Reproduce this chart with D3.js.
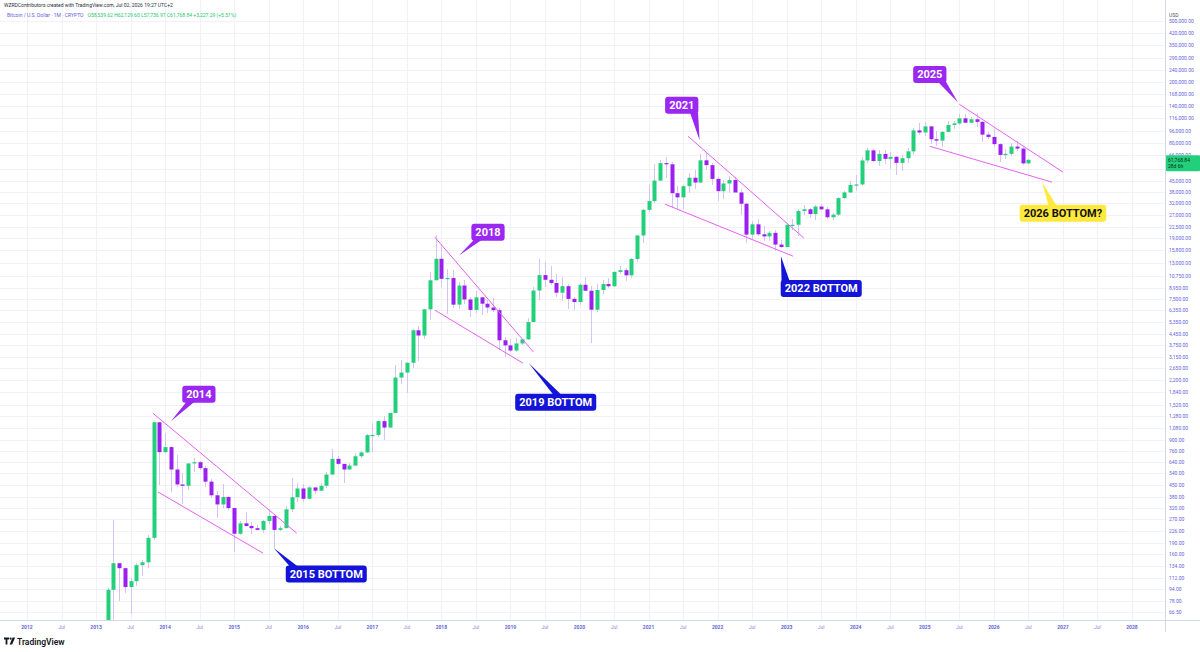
<!DOCTYPE html>
<html>
<head>
    <meta charset="UTF-8" />
    <style>
        body { margin: 0; background: #fff; }
        svg { display: block; font-family: Roboto, "Liberation Sans", sans-serif; }
        .grid line { stroke: #f1f1f7; stroke-width: 1; shape-rendering: crispEdges; }
        .frame line { stroke: #d5d7ea; stroke-width: 1; shape-rendering: crispEdges; }
        .price-label { fill: #6464dc; font-size: 5px; }
        .time-label { fill: #6464dc; font-size: 5px; text-anchor: middle; }
        .time-label.year { font-weight: bold; }
        .time-label.half { fill: #8c8ce6; }
        .wick { stroke: #d3c4f4; stroke-width: 1; shape-rendering: crispEdges; }
        .wedge { stroke: #e462f1; stroke-width: 1; fill: none; }
        .callout text { font-size: 11px; font-weight: bold; fill: #fff; text-anchor: middle; }
        .header { font-size: 5px; }
    </style>
    <script src="https://cdn.jsdelivr.net/npm/d3@7"></script>
</head>
<body>
    <svg width="1200" height="652"></svg>
    <script>

        // monthly BTCUSD candles, Mar 2013 -> Jul 2026
        var months = [
            "2013-03","2013-04","2013-05","2013-06","2013-07","2013-08","2013-09","2013-10","2013-11","2013-12",
            "2014-01","2014-02","2014-03","2014-04","2014-05","2014-06","2014-07","2014-08","2014-09","2014-10","2014-11","2014-12",
            "2015-01","2015-02","2015-03","2015-04","2015-05","2015-06","2015-07","2015-08","2015-09","2015-10","2015-11","2015-12",
            "2016-01","2016-02","2016-03","2016-04","2016-05","2016-06","2016-07","2016-08","2016-09","2016-10","2016-11","2016-12",
            "2017-01","2017-02","2017-03","2017-04","2017-05","2017-06","2017-07","2017-08","2017-09","2017-10","2017-11","2017-12",
            "2018-01","2018-02","2018-03","2018-04","2018-05","2018-06","2018-07","2018-08","2018-09","2018-10","2018-11","2018-12",
            "2019-01","2019-02","2019-03","2019-04","2019-05","2019-06","2019-07","2019-08","2019-09","2019-10","2019-11","2019-12",
            "2020-01","2020-02","2020-03","2020-04","2020-05","2020-06","2020-07","2020-08","2020-09","2020-10","2020-11","2020-12",
            "2021-01","2021-02","2021-03","2021-04","2021-05","2021-06","2021-07","2021-08","2021-09","2021-10","2021-11","2021-12",
            "2022-01","2022-02","2022-03","2022-04","2022-05","2022-06","2022-07","2022-08","2022-09","2022-10","2022-11","2022-12",
            "2023-01","2023-02","2023-03","2023-04","2023-05","2023-06","2023-07","2023-08","2023-09","2023-10","2023-11","2023-12",
            "2024-01","2024-02","2024-03","2024-04","2024-05","2024-06","2024-07","2024-08","2024-09","2024-10","2024-11","2024-12",
            "2025-01","2025-02","2025-03","2025-04","2025-05","2025-06","2025-07","2025-08","2025-09","2025-10","2025-11","2025-12",
            "2026-01","2026-02","2026-03","2026-04","2026-05","2026-06","2026-07"
        ];

        var opens = [
            33.5, 93, 139, 129, 97, 106, 135, 141, 204, 1170,
            745, 804, 573, 457, 448, 628, 640, 585, 477, 388, 338, 378,
            320, 217, 254, 244, 236, 230, 263, 284, 230, 236, 314, 377,
            430, 368, 437, 416, 448, 531, 673, 624, 573, 608, 700, 742,
            964, 966, 1190, 1080, 1348, 2300, 2480, 2875, 4700, 4340, 6450, 10000,
            13850, 10220, 10350, 6920, 9240, 7490, 6390, 7730, 7020, 6630, 6370, 4040,
            3740, 3460, 3850, 4100, 5320, 8570, 10820, 10080, 9600, 8290, 9150, 7550,
            7200, 9350, 8540, 6410, 8630, 9450, 9140, 11350, 11650, 10780, 13800, 19700,
            29000, 33110, 45140, 58790, 57720, 37300, 35040, 41460, 47130, 43820, 61300, 57000,
            46300, 38470, 43190, 45540, 37710, 31800, 19950, 23300, 20050, 19420, 20490, 17160,
            16540, 23130, 23150, 28480, 29250, 27220, 30480, 29230, 25930, 26970, 34650, 37720,
            42280, 42580, 61200, 71300, 60650, 67500, 62700, 64630, 58970, 63300, 70200, 96400,
            93400, 102400, 84350, 82550, 94200, 104600, 107100, 115700, 108200, 114000, 109600, 90400,
            87300, 78300, 66500, 67600, 75500, 73200, 58539.62
        ];

        var highs = [
            95, 266, 140, 130, 111, 140, 145, 213, 1180, 1175,
            1000, 815, 718, 540, 630, 680, 650, 600, 500, 415, 457, 383,
            320, 265, 300, 260, 247, 268, 316, 285, 245, 330, 502, 465,
            462, 445, 440, 467, 550, 780, 705, 627, 630, 740, 755, 975,
            1155, 1200, 1290, 1350, 2790, 2980, 2930, 4760, 4980, 6470, 11400, 19700,
            17200, 11800, 11700, 9740, 9990, 7770, 8500, 7760, 7410, 7690, 6580, 4240,
            4140, 4200, 4140, 5640, 9100, 13880, 13200, 12330, 10950, 10540, 9510, 7750,
            9580, 10500, 9190, 9460, 10070, 10400, 11440, 12480, 12070, 14100, 19860, 29300,
            41950, 58350, 61780, 64900, 59600, 41330, 42320, 50500, 52920, 67000, 69000, 59120,
            47990, 45800, 48200, 47450, 40000, 31980, 24670, 25200, 22800, 20990, 21470, 18390,
            23950, 25250, 29200, 31000, 29800, 31430, 31800, 30200, 27500, 35200, 38450, 44700,
            49000, 64000, 73800, 72800, 71980, 71950, 70000, 65100, 66500, 73600, 99600, 108300,
            109600, 102500, 95000, 95750, 111900, 110500, 123200, 124400, 117900, 126200, 111200, 94600,
            97900, 79500, 72300, 79400, 82500, 74600, 62129.60
        ];

        var lows = [
            33, 50, 79, 88, 65, 98, 115, 130, 197, 455,
            730, 410, 440, 340, 420, 550, 570, 440, 370, 275, 320, 310,
            165, 212, 240, 215, 228, 220, 253, 175, 225, 235, 300, 348,
            350, 365, 395, 413, 435, 530, 610, 465, 570, 605, 680, 740,
            750, 940, 890, 1075, 1350, 2100, 1830, 2670, 2970, 4100, 5500, 10700,
            9000, 6000, 6600, 6440, 7030, 5780, 6070, 5880, 6100, 6200, 3500, 3150,
            3400, 3380, 3770, 4070, 5320, 7460, 9070, 9320, 7730, 7300, 6520, 6430,
            6870, 8450, 3850, 6150, 8100, 8900, 8970, 10980, 9880, 10380, 13200, 17600,
            28130, 32300, 44950, 47000, 30000, 28800, 29300, 37330, 39600, 43300, 53250, 42000,
            32930, 34300, 37150, 37700, 26700, 17600, 18780, 19600, 18150, 18200, 15480, 16260,
            16500, 21400, 19550, 26950, 25800, 24800, 28860, 25300, 24900, 26550, 34100, 37600,
            38500, 41900, 59000, 59600, 56500, 58400, 53500, 49000, 52550, 58900, 66800, 90500,
            89200, 78200, 76600, 74500, 93400, 98200, 105300, 107300, 107300, 102000, 80600, 84400,
            74500, 60100, 63000, 65500, 71000, 56900, 57736.97
        ];

        var closes = [
            93, 139, 129, 97, 106, 135, 141, 204, 1170, 745,
            804, 573, 457, 448, 628, 640, 585, 477, 388, 338, 378, 320,
            217, 254, 244, 236, 230, 263, 284, 230, 236, 314, 377, 430,
            368, 437, 416, 448, 531, 673, 624, 573, 608, 700, 742, 964,
            966, 1190, 1080, 1348, 2300, 2480, 2875, 4700, 4340, 6450, 10000, 13850,
            10220, 10350, 6920, 9240, 7490, 6390, 7730, 7020, 6630, 6370, 4040, 3740,
            3460, 3850, 4100, 5320, 8570, 10820, 10080, 9600, 8290, 9150, 7550, 7200,
            9350, 8540, 6410, 8630, 9450, 9140, 11350, 11650, 10780, 13800, 19700, 29000,
            33110, 45140, 58790, 57720, 37300, 35040, 41460, 47130, 43820, 61300, 57000, 46300,
            38470, 43190, 45540, 37710, 31800, 19950, 23300, 20050, 19420, 20490, 17160, 16540,
            23130, 23150, 28480, 29250, 27220, 30480, 29230, 25930, 26970, 34650, 37720, 42280,
            42580, 61200, 71300, 60650, 67500, 62700, 64630, 58970, 63300, 70200, 96400, 93400,
            102400, 84350, 82550, 94200, 104600, 107100, 115700, 108200, 114000, 109600, 90400, 87300,
            78300, 66500, 67600, 75500, 73200, 58539.62, 61768.84
        ];

        // right scale labels as TradingView prints them
        var priceTicks = [500000, 420000, 350000, 290000, 240000, 200000, 168000, 140000, 116000, 96000,
            80000, 66000, 54000, 45000, 38000, 32000, 27000, 22500, 19000, 15800, 13000, 10750,
            8950, 7500, 6350, 5350, 4450, 3750, 3150, 2650, 2200, 1840, 1520, 1280, 1080,
            900, 760, 640, 540, 450, 380, 320, 270, 226, 190, 160, 134, 112, 94, 78, 66.5];

        var yearTicks = ["2012","2013","2014","2015","2016","2017","2018","2019","2020",
            "2021","2022","2023","2024","2025","2026","2027","2028"];

        // drawn wedges: [month, price] -> [month, price]
        var wedgeStarts = [["2013-10-27", 1343], ["2013-11-24", 408], ["2017-11-27", 19200], ["2017-11-27", 6370],
            ["2021-07-27", 88200], ["2021-03-27", 31600], ["2025-07-01", 143000], ["2025-01-27", 75800]];
        var wedgeEnds = [["2015-11-27", 219], ["2015-06-01", 162], ["2019-05-01", 3378], ["2019-03-06", 2861],
            ["2023-04-01", 18900], ["2023-02-04", 14400], ["2027-01-01", 51300], ["2026-11-04", 44100]];

        // callouts: text, tip [month, price], box centre [month, price]
        var calloutText = ["2014", "2015 BOTTOM", "2018", "2019 BOTTOM", "2021", "2022 BOTTOM", "2025", "2026 BOTTOM?"];
        var calloutTip = [["2014-02-01", 1190], ["2015-07-27", 175], ["2018-04-04", 14600], ["2019-04-06", 2861],
            ["2021-09-27", 83100], ["2022-12-01", 14400], ["2025-06-24", 147000], ["2026-09-12", 44100]];
        var calloutBox = [["2014-06-27", 1790], ["2016-05-01", 118], ["2018-09-04", 20700], ["2019-08-27", 1582],
            ["2021-06-24", 140800], ["2023-07-01", 8850], ["2025-01-27", 224600], ["2027-01-01", 27500]];
        var calloutColor = ["#9b27f2", "#1414d8", "#9b27f2", "#1414d8", "#9b27f2", "#1414d8", "#9b27f2", "#ffe93d"];
        var calloutTail = [0.25, 0.1, 0.2, 0.52, 0.87, 0.06, 0.87, 0.38];

        var lastPrice = 61768.84;

        var svg = d3.select("svg"),
            plotW = 1165,
            plotH = 620;

        // month index counted from Jan 2012, day gives fraction of a month
        function monthIndex(s) {
            var p = s.split("-");
            var m = (+p[0] - 2012) * 12 + (+p[1] - 1);
            if (p[2]) m += (+p[2] - 1) / 30;
            return m;
        }

        var x = d3.scaleLinear().domain([0, 192]).range([27, 1132]);
        var y = d3.scaleLog().domain([66.5, 420000]).range([612, 33]);

        svg.append("defs").append("clipPath").attr("id", "plot")
           .append("rect").attr("width", plotW).attr("height", plotH);

        // grid
        var grid = svg.append("g").attr("class", "grid");
        grid.selectAll(".h").data(priceTicks).enter().append("line")
            .attr("x1", 0).attr("x2", plotW)
            .attr("y1", function(d) { return Math.round(y(d)) + 0.5; })
            .attr("y2", function(d) { return Math.round(y(d)) + 0.5; });

        var timeTicks = [];
        yearTicks.forEach(function(yr) {
            timeTicks.push({ m: monthIndex(yr + "-01"), label: yr, year: true });
            timeTicks.push({ m: monthIndex(yr + "-07"), label: "Jul", year: false });
        });
        timeTicks = timeTicks.filter(function(d) { return x(d.m) < plotW - 15; });

        grid.selectAll(".v").data(timeTicks).enter().append("line")
            .attr("y1", 0).attr("y2", plotH)
            .attr("x1", function(d) { return Math.round(x(d.m)) + 0.5; })
            .attr("x2", function(d) { return Math.round(x(d.m)) + 0.5; });

        var plot = svg.append("g").attr("clip-path", "url(#plot)");

        var candles = months.map(function(m, i) {
            return { m: monthIndex(m), o: opens[i], h: highs[i], l: lows[i], c: closes[i] };
        });

        plot.selectAll(".wick").data(candles).enter().append("line")
            .attr("class", "wick")
            .attr("x1", function(d) { return Math.round(x(d.m)) + 0.5; })
            .attr("x2", function(d) { return Math.round(x(d.m)) + 0.5; })
            .attr("y1", function(d) { return y(d.h); })
            .attr("y2", function(d) { return y(d.l); });

        plot.selectAll(".body").data(candles).enter().append("rect")
            .attr("class", "body")
            .attr("x", function(d) { return Math.round(x(d.m)) - 1.5; })
            .attr("width", 4)
            .attr("y", function(d) { return y(Math.max(d.o, d.c)); })
            .attr("height", function(d) { return Math.max(1.2, Math.abs(y(d.o) - y(d.c))); })
            .attr("fill", function(d) { return d.c >= d.o ? "#22d07b" : "#9b20f0"; });

        // wedges
        plot.selectAll(".wedge").data(wedgeStarts).enter().append("line")
            .attr("class", "wedge")
            .attr("x1", function(d) { return x(monthIndex(d[0])); })
            .attr("y1", function(d) { return y(d[1]); })
            .attr("x2", function(d, i) { return x(monthIndex(wedgeEnds[i][0])); })
            .attr("y2", function(d, i) { return y(wedgeEnds[i][1]); });

        // callouts
        calloutText.forEach(function(t, i) {
            var g = svg.append("g").attr("class", "callout");
            var cx = x(monthIndex(calloutBox[i][0])), cy = y(calloutBox[i][1]);
            var tx = x(monthIndex(calloutTip[i][0])), ty = y(calloutTip[i][1]);
            var tail = g.append("path").attr("fill", calloutColor[i]);
            var rect = g.append("rect").attr("rx", 3).attr("fill", calloutColor[i]);
            var text = g.append("text").attr("x", cx).attr("y", cy + 4).text(t)
                        .style("fill", calloutColor[i] === "#ffe93d" ? "#111" : "#fff");
            var w = text.node().getComputedTextLength() + 8, h = 17;
            var x0 = cx - w / 2, y0 = cy - h / 2;
            rect.attr("x", x0).attr("y", y0).attr("width", w).attr("height", h);
            var bx = x0 + calloutTail[i] * w;
            bx = Math.max(x0 + 4, Math.min(x0 + w - 4, bx));
            var by = ty > cy ? y0 + h - 1 : y0 + 1;
            tail.attr("d", "M" + (bx - 4) + "," + by + "L" + tx + "," + ty + "L" + (bx + 4) + "," + by + "Z");
        });

        // frame
        var frame = svg.append("g").attr("class", "frame");
        frame.append("line").attr("x1", 0).attr("x2", 1200).attr("y1", plotH + 0.5).attr("y2", plotH + 0.5);
        frame.append("line").attr("x1", plotW + 0.5).attr("x2", plotW + 0.5).attr("y1", 0).attr("y2", 632);

        // price axis (labels under the last-price tag are hidden, as on TradingView)
        var fmt = d3.format(",.2f");
        var ly = y(lastPrice);
        svg.append("g").selectAll("text")
           .data(priceTicks.filter(function(d) { return Math.abs(y(d) - ly - 5) > 6; }))
           .enter().append("text")
           .attr("class", "price-label")
           .attr("x", 1169)
           .attr("y", function(d) { return y(d) + 2; })
           .text(function(d) { return fmt(d); });

        svg.append("rect").attr("x", plotW + 1).attr("y", 9).attr("width", 34).attr("height", 10).attr("fill", "#fff");
        svg.append("text").attr("class", "price-label").attr("x", 1169).attr("y", 17).style("fill", "#50535e").text("USD");

        svg.append("rect").attr("x", plotW + 1).attr("y", ly - 4.5).attr("width", 34).attr("height", 16)
           .attr("rx", 1).attr("fill", "#22d07b");
        svg.append("text").attr("class", "price-label").attr("x", 1168).attr("y", ly + 2)
           .style("fill", "#0d2b17").text(fmt(lastPrice));
        svg.append("text").attr("class", "price-label").attr("x", 1168).attr("y", ly + 8.5)
           .style("fill", "#0d2b17").text("28d 6h");

        // time axis
        svg.append("g").selectAll("text").data(timeTicks).enter().append("text")
           .attr("class", function(d) { return "time-label" + (d.year ? " year" : " half"); })
           .attr("x", function(d) { return x(d.m); })
           .attr("y", 629)
           .text(function(d) { return d.label; });

        // header
        svg.append("text").attr("class", "header").attr("x", 4).attr("y", 7).style("fill", "#2a2e39")
           .text("WZRDContributors created with TradingView.com, Jul 02, 2026 19:27 UTC+2");
        var h2 = svg.append("text").attr("class", "header").attr("x", 7).attr("y", 16.5);
        h2.append("tspan").style("fill", "#6060dc").text("Bitcoin / U.S. Dollar · 1M · CRYPTO");
        h2.append("tspan").attr("dx", 4).style("fill", "#1fc46f")
          .text("O58,539.62  H62,129.60  L57,736.97  C61,768.84  +3,227.29 (+5.51%)");

        // TradingView logo
        var logo = svg.append("g").attr("fill", "#131722");
        logo.append("path").attr("d", "M4,637.5h5v2h-1.6v5h-1.8v-5h-1.6z");
        logo.append("circle").attr("cx", 10.6).attr("cy", 638.6).attr("r", 1.1);
        logo.append("path").attr("d", "M12.5,637.5h2.6l-3,7h-2.4z");
        logo.append("text").attr("x", 17).attr("y", 644.5).style("font-size", "8.5px").style("font-weight", "600")
            .text("TradingView");

    </script>
</body>
</html>
